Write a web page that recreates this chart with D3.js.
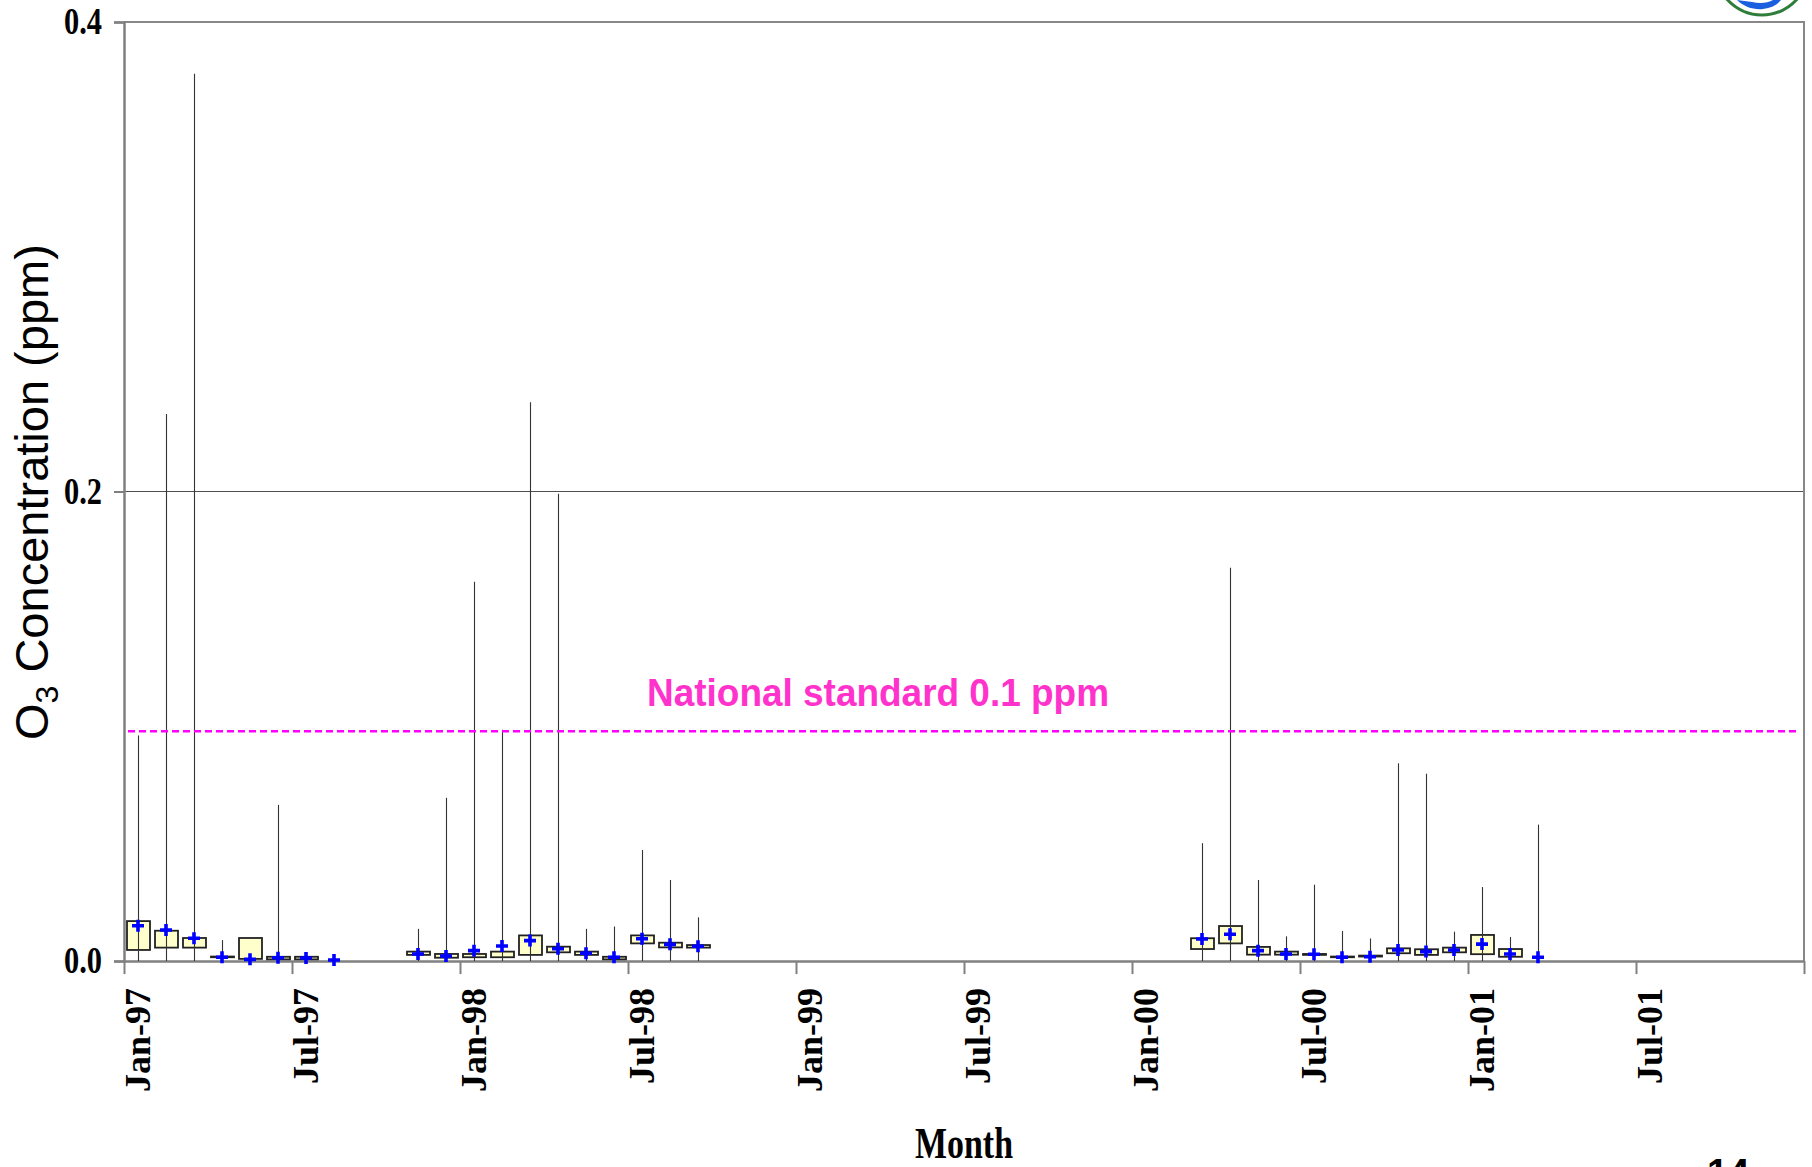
<!DOCTYPE html>
<html>
<head>
<meta charset="utf-8">
<script src="https://cdn.jsdelivr.net/npm/d3@7"></script>
<style>
  html, body { margin: 0; padding: 0; background: #fff; }
  svg { display: block; }
</style>
</head>
<body>
<script>
// ---------------- DATA ----------------
const months = ["1997-01","1997-02","1997-03","1997-04","1997-05","1997-06","1997-07","1997-08",
  "1997-11","1997-12","1998-01","1998-02","1998-03","1998-04","1998-05","1998-06","1998-07","1998-08","1998-09",
  "2000-03","2000-04","2000-05","2000-06","2000-07","2000-08","2000-09","2000-10","2000-11","2000-12",
  "2001-01","2001-02","2001-03"];
const q1Values = [0.0047,0.0057,0.0057,0.0016,0.0009,0.0007,0.0007,null,
  0.0026,0.0014,0.0016,0.0016,0.0026,0.0037,0.0026,0.0007,0.0075,0.0058,0.0057,
  0.0051,0.0075,0.0027,0.0027,0.0026,0.0016,0.0019,0.0033,0.0026,0.0037,
  0.0029,0.0018,null];
const q3Values = [0.0170,0.0129,0.0098,0.0019,0.0098,0.0018,0.0018,null,
  0.0040,0.0030,0.0030,0.0040,0.0109,0.0061,0.0040,0.0018,0.0109,0.0078,0.0068,
  0.0097,0.0149,0.0060,0.0040,0.0030,0.0019,0.0023,0.0054,0.0050,0.0057,
  0.0111,0.0051,null];
const meanValues = [0.0150,0.0132,0.0097,0.0016,0.0007,0.0014,0.0013,0.0004,
  0.0030,0.0021,0.0044,0.0064,0.0087,0.0052,0.0033,0.0016,0.0095,0.0071,0.0063,
  0.0094,0.0114,0.0044,0.0030,0.0029,0.0016,0.0018,0.0047,0.0040,0.0047,
  0.0072,0.0030,0.0016];
const maxValues = [0.0961,0.233,0.378,0.0089,null,0.0665,0.0025,null,
  0.0137,0.0695,0.1616,0.0985,0.238,0.199,0.0137,0.0147,0.0473,0.0345,0.0186,
  0.0502,0.1675,0.0345,0.0105,0.0325,0.0128,0.0096,0.0842,0.0798,0.0125,
  0.0315,0.0102,0.0581];
const minValues = [0,0,0,0,null,0,0,null,
  0,0,0,0,0,0,0,0,0,0,0,
  0,0,0,0,0,0,0,0,0,0,
  0,0,0];
const yTickValues = [0.0, 0.2, 0.4];
const xLabelMonths = ["1997-01","1997-07","1998-01","1998-07","1999-01","1999-07","2000-01","2000-07","2001-01","2001-07"];
const standardValue = 0.1;
const standardLabel = "National standard 0.1 ppm";
const xTitle = "Month";

// ---------------- LAYOUT ----------------
const W = 1812, H = 1167;
const L = 124, R = 1804, T = 22, B = 961;

const svg = d3.select("body").append("svg").attr("width", W).attr("height", H);

// all months Jan-97 .. Dec-01
const allMonths = d3.timeMonth.range(new Date(1997,0,1), new Date(2002,0,1)).map(d3.timeFormat("%Y-%m"));
const x = d3.scaleBand().domain(allMonths).range([L, R]).padding(0);
const xIdx = d3.scaleLinear().domain([0, allMonths.length]).range([L, R]);
const y = d3.scaleLinear().domain([0, 0.4]).range([B, T]);
const fmtLabel = d => d3.timeFormat("%b-%y")(d3.timeParse("%Y-%m")(d));

// gridline at 0.2
svg.append("g").selectAll("line").data([0.2]).join("line")
  .attr("x1", L).attr("x2", R).attr("y1", d => y(d)).attr("y2", d => y(d))
  .attr("stroke", "#222").attr("stroke-width", 0.8);

// plot frame (top / right)
svg.append("path").attr("d", `M${L},${T}H${R}V${B}`)
  .attr("fill", "none").attr("stroke", "#888").attr("stroke-width", 2);

// Y axis
const yAxis = svg.append("g").attr("transform", `translate(${L},0)`)
  .call(d3.axisLeft(y).tickValues(yTickValues).tickFormat(d3.format(".1f")).tickSize(10).tickPadding(12));
yAxis.select(".domain").attr("stroke", "#808080").attr("stroke-width", 2.5);
yAxis.selectAll(".tick line").attr("stroke", "#808080").attr("stroke-width", 2);
yAxis.selectAll(".tick text")
  .attr("font-family", "'Liberation Serif', 'Times New Roman', serif")
  .attr("font-weight", "bold").attr("font-size", 37).attr("fill", "#000")
  .attr("textLength", 38).attr("lengthAdjust", "spacingAndGlyphs");

// X axis ticks at 6-month boundaries
const xTicks = svg.append("g").attr("transform", `translate(0,${B})`)
  .call(d3.axisBottom(xIdx).tickValues(d3.range(0, 61, 6)).tickFormat("").tickSize(13).tickSizeOuter(0));
xTicks.select(".domain").attr("stroke", "#808080").attr("stroke-width", 2.5);
xTicks.selectAll(".tick line").attr("stroke", "#808080").attr("stroke-width", 2);

// X labels at month centres
const xLab = svg.append("g").attr("transform", `translate(0,${B})`)
  .call(d3.axisBottom(x).tickValues(xLabelMonths).tickFormat(fmtLabel).tickSize(0));
xLab.select(".domain").remove();
xLab.selectAll(".tick text")
  .attr("font-family", "'Liberation Serif', 'Times New Roman', serif")
  .attr("font-weight", "bold").attr("font-size", 36).attr("fill", "#000")
  .attr("text-anchor", "end")
  .attr("transform", "rotate(-90)")
  .attr("x", -27).attr("y", 0).attr("dy", "0.34em");

// Data rows
const rows = months.map((m, i) => ({
  m, q1: q1Values[i], q3: q3Values[i], mean: meanValues[i], max: maxValues[i], min: minValues[i]
}));
const bw = 23;
const cx = d => x(d.m) + x.bandwidth() / 2;

// boxes
svg.append("g").selectAll("rect").data(rows.filter(d => d.q1 != null)).join("rect")
  .attr("x", d => cx(d) - bw / 2 + 0.5)
  .attr("width", bw)
  .attr("y", d => y(d.q3))
  .attr("height", d => Math.max(0.5, y(d.q1) - y(d.q3)))
  .attr("fill", "#ffffcc").attr("stroke", "#222").attr("stroke-width", 1.8);

// whiskers
svg.append("g").selectAll("line").data(rows.filter(d => d.max != null)).join("line")
  .attr("x1", d => cx(d) + 0.5).attr("x2", d => cx(d) + 0.5)
  .attr("y1", d => y(d.min)).attr("y2", d => y(d.max))
  .attr("stroke", "#333").attr("stroke-width", 1.1);

// mean markers
const ps = 6;
svg.append("g").selectAll("path").data(rows).join("path")
  .attr("d", d => {
    const px = cx(d), py = y(d.mean);
    return `M${px - ps},${py}H${px + ps}M${px},${py - ps}V${py + ps}`;
  })
  .attr("stroke", "#0000ff").attr("stroke-width", 3.6).attr("fill", "none");

// National standard line
svg.append("line").datum(standardValue)
  .attr("x1", L + 4).attr("x2", R - 8)
  .attr("y1", d => y(d) + 5).attr("y2", d => y(d) + 5)
  .attr("stroke", "#ff00ff").attr("stroke-width", 2.4).attr("stroke-dasharray", "7,4");
svg.append("text").text(standardLabel)
  .attr("x", 647).attr("y", 706)
  .attr("font-family", "'Liberation Sans', Arial, sans-serif").attr("font-weight", "bold")
  .attr("font-size", 38).attr("fill", "#ff33cc")
  .attr("textLength", 462).attr("lengthAdjust", "spacingAndGlyphs");

// Y title
const yt = svg.append("text")
  .attr("transform", "translate(48,740) rotate(-90)")
  .attr("font-family", "'Liberation Sans', Arial, sans-serif")
  .attr("font-size", 47).attr("fill", "#000");
yt.append("tspan").text("O");
yt.append("tspan").text("3").attr("font-size", 32).attr("dy", 10);
yt.append("tspan").text(" Concentration (ppm)").attr("dy", -10);

// X title
svg.append("text").text(xTitle)
  .attr("x", 964).attr("y", 1158).attr("text-anchor", "middle")
  .attr("font-family", "'Liberation Serif', 'Times New Roman', serif")
  .attr("font-weight", "bold").attr("font-size", 44).attr("fill", "#000")
  .attr("textLength", 98).attr("lengthAdjust", "spacingAndGlyphs");

// page number (partly below the slide edge, as in the reference)
svg.append("text").text("14")
  .attr("x", 1707).attr("y", 1186)
  .attr("font-family", "'Liberation Sans', Arial, sans-serif").attr("font-weight", "bold")
  .attr("font-size", 38).attr("fill", "#000");

// logo fragment (top right)
const logo = svg.append("g");
logo.append("ellipse").attr("cx", 1762).attr("cy", -40).attr("rx", 50).attr("ry", 55)
  .attr("fill", "#fff").attr("stroke", "#2e7d3a").attr("stroke-width", 3);
logo.append("path")
  .attr("d", "M1737,0 C1744,7 1754,10 1763,9 C1771,8 1777,5 1781,0 L1773,0 C1768,3 1760,4 1752,2 Z")
  .attr("fill", "#1a5fe0");
</script>
</body>
</html>
